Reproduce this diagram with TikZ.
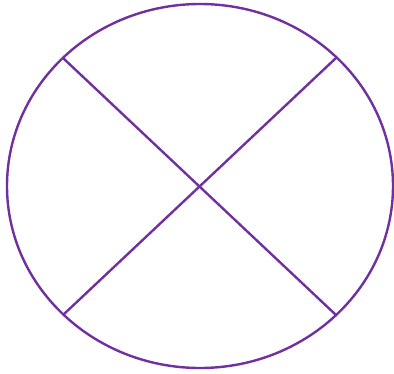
\documentclass[tikz,border=0pt]{standalone}
\definecolor{lineviolet}{HTML}{7030A0}
\tikzset{outline/.style={draw=lineviolet,line width=2.4pt}}
\begin{document}
\begin{tikzpicture}[x=1pt,y=-1pt]
\useasboundingbox (0,0) rectangle (394,373);
\coordinate (c) at (200,186);
\draw[outline] (c) ellipse [x radius=193, y radius=182];
\coordinate (tl) at (63,58);
\coordinate (tr) at (336,58);
\coordinate (bl) at (63,315);
\coordinate (br) at (336,315);
\draw[outline] (tl) -- (br);
\draw[outline] (tr) -- (bl);
\end{tikzpicture}
\end{document}
